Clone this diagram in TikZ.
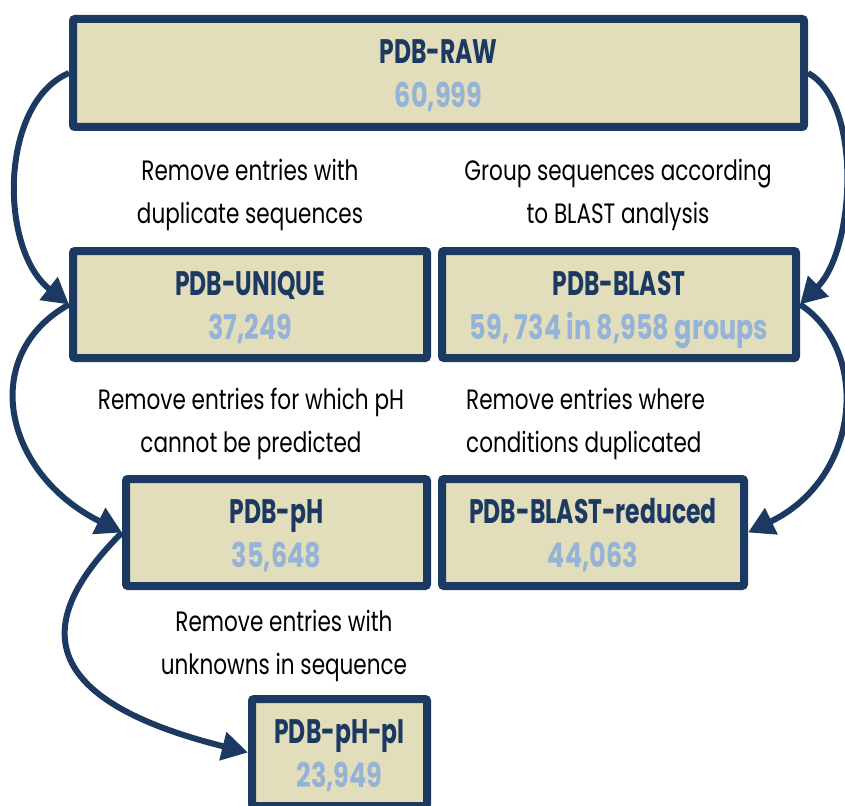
\documentclass[tikz,border=0pt]{standalone}
\usepackage{fontspec}
\setmainfont{Poppins}[FakeStretch=0.72]
\newfontfamily\ttlfont{Poppins}[FakeStretch=0.69]
\newfontfamily\numfont{Poppins}[FakeStretch=0.75]
\newfontfamily\lblfont{Poppins}[FakeStretch=0.77]
\usetikzlibrary{arrows.meta}
\definecolor{navy}{HTML}{1C3962}
\definecolor{tan}{HTML}{E2DEBC}
\definecolor{lblue}{HTML}{95B3D7}
\tikzset{
  box/.style={draw=navy, fill=tan, line width=8pt, rounded corners=2pt, align=center,
    inner sep=0pt, font=\fontsize{34}{44}\selectfont\bfseries},
  lbl/.style={align=center, inner sep=0pt, font=\lblfont\fontsize{28}{43}\selectfont, text=black},
  arr/.style={draw=navy, line width=6pt, -{Triangle[length=26pt,width=28pt]}},
}
\newcommand{\bx}[2]{\raisebox{-4pt}[\height][\depth]{\begin{tabular}{@{}c@{}}\textcolor{navy}{\ttlfont\bfseries #1}\\\textcolor{lblue}{\numfont\bfseries #2}\end{tabular}}}
\begin{document}
\begin{tikzpicture}[x=1pt,y=-1pt]
\useasboundingbox (0,0) rectangle (845,805);
\node[box, minimum width=731pt, minimum height=108pt] (raw) at (438.5,73) {\bx{PDB-RAW}{60,999}};
\node[box, minimum width=354pt, minimum height=107pt] (unique) at (250,304.5) {\bx{PDB-UNIQUE}{37,249}};
\node[box, minimum width=354pt, minimum height=107pt] (blast) at (619,304.5) {\bx{PDB-BLAST}{59, 734 in 8,958 groups}};
\node[box, minimum width=301pt, minimum height=107pt] (ph) at (276.5,532.5) {\bx{PDB-pH}{35,648}};
\node[box, minimum width=302pt, minimum height=107pt] (red) at (593,532.5) {\bx{PDB-BLAST-reduced}{44,063}};
\node[box, minimum width=175pt, minimum height=107pt] (phpi) at (339.5,752.5) {\bx{PDB-pH-pI}{23,949}};

\node[lbl] (l1) at (250,195) {Remove entries with\\duplicate sequences};
\node[lbl] (l2) at (618,195) {Group sequences according\\to BLAST analysis};
\node[lbl] (l3) at (251,424) {Remove entries for which pH\\cannot be predicted};
\node[lbl, align=left, anchor=west] (l4) at (466,424) {Remove entries where\\conditions duplicated};
\node[lbl] (l5) at (284,646) {Remove entries with\\unknowns in sequence};

\draw[arr] (raw.west) .. controls +(-70,30) and +(-70,-55) .. (unique.west);
\draw[arr] (raw.east) .. controls +(55,30) and +(55,-55) .. (blast.east);
\draw[arr] (unique.west) .. controls +(-90,50) and +(-120,-60) .. (ph.west);
\draw[arr] (blast.east) .. controls +(70,45) and +(114,-55) .. (red.east);
\draw[arr] (ph.west) .. controls +(-70,70) and +(-240,-60) .. (phpi.west);
\end{tikzpicture}
\end{document}
